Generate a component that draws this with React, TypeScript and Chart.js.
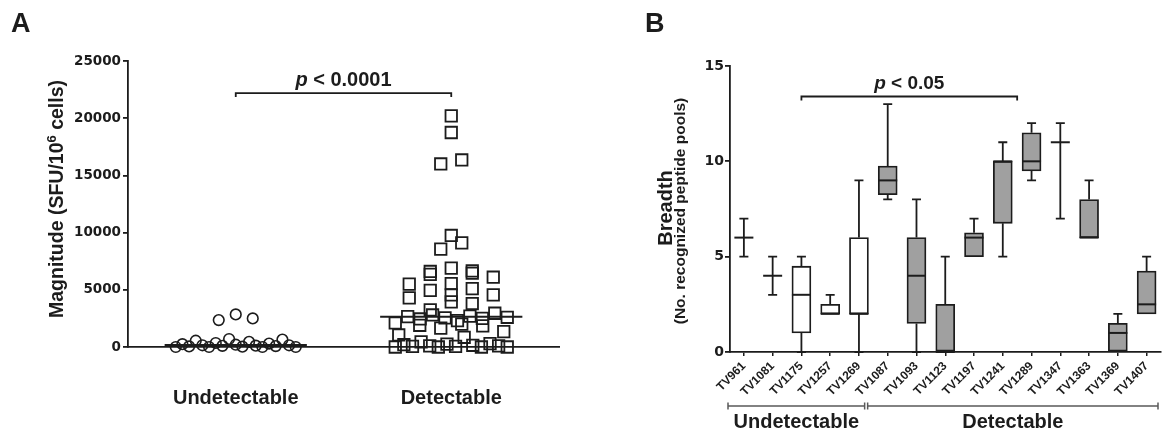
import React, { useEffect, useRef } from 'react';
import { Chart, registerables } from 'chart.js';

Chart.register(...registerables);

// ---------------- Panel A data ----------------
const groupLabelsA = ['Undetectable', 'Detectable'];
const undetectableSFU = [2850, 2500, 2350, 700, 650, 550, 450, 350, 300, 250, 200, 150, 150, 120, 100, 80, 50, 30, 0, 0, 0, 0];
const detectableSFU = [
  20200, 18750, 16350, 16000, 9750, 9100, 8550,
  6900, 6650, 6600, 6450, 6350, 6100, 5550, 5500,
  5100, 4950, 4550, 4550, 4300, 3950, 3800,
  3250, 2950, 2800, 2700, 2650, 2600, 2550, 2500, 2450,
  2300, 2100, 2000, 1900, 1850, 1650, 1350, 1050, 850,
  450, 300, 250, 200, 150, 100, 100, 50, 50, 0, 0, 0, 0,
];
const yTicksA = [0, 5000, 10000, 15000, 20000, 25000];
const yMaxA = 25000;
const pTextA = '< 0.0001';
const pValueLevelA = 22200;

// ---------------- Panel B data ----------------
const subjectsB = ['TV961', 'TV1081', 'TV1175', 'TV1257', 'TV1269', 'TV1087', 'TV1093', 'TV1123', 'TV1197', 'TV1241', 'TV1289', 'TV1347', 'TV1363', 'TV1369', 'TV1407'];
const viremiaB = ['Undetectable', 'Undetectable', 'Undetectable', 'Undetectable', 'Undetectable', 'Detectable', 'Detectable', 'Detectable', 'Detectable', 'Detectable', 'Detectable', 'Detectable', 'Detectable', 'Detectable', 'Detectable'];
const minB = [5, 3, 0, 2, 0, 8, 0, 0, 5, 5, 9, 7, 6, 0, 2];
const q1B = [6, 4, 1, 2, 2, 8.25, 1.5, 0, 5, 6.75, 9.5, 11, 6, 0, 2];
const medianB = [6, 4, 3, 2, 2, 9, 4, 0, 6, 10, 10, 11, 6, 1, 2.5];
const q3B = [6, 4, 4.5, 2.5, 6, 9.75, 6, 2.5, 6.25, 10, 11.5, 11, 8, 1.5, 4.25];
const maxB = [7, 5, 5, 3, 9, 13, 8, 5, 7, 11, 12, 12, 9, 2, 5];
const yTicksB = [0, 5, 10, 15];
const yMaxB = 15;
const pTextB = '< 0.05';
const pValueLevelB = 13.4;
const pSpanB = [2, 9.5];

// ---------------- styling ----------------
const INK = '#1c1c1c';
const NUM_FONT = '"DejaVu Sans", sans-serif';
const WORD_FONT = '"Liberation Sans", Arial, sans-serif';
const LW = 1.8;

// layout (chart areas)
const A = { w: 580, h: 436, left: 128, right: 559, top: 61, bottom: 347 };
const B = { w: 586, h: 436, left: 149.5, right: 581, top: 66, bottom: 352 };

function median(vals: number[]) {
  const s = [...vals].sort((a, b) => a - b);
  const n = s.length;
  return n % 2 ? s[(n - 1) / 2] : (s[n / 2 - 1] + s[n / 2]) / 2;
}

// Row-based scatter dot layout (GraphPad style): returns x offsets in pixels
function swarmOffsets(values: number[], pxPerUnit: number, binPx: number, stepPx: number, halfPx: number) {
  const order = values.map((_, i) => i).sort((a, b) => values[a] - values[b]);
  const rows: number[][] = [];
  let start = 0;
  for (const i of order) {
    if (!rows.length || (values[i] - start) * pxPerUnit > binPx) {
      rows.push([i]);
      start = values[i];
    } else rows[rows.length - 1].push(i);
  }
  const off = new Array(values.length).fill(0);
  for (const row of rows) {
    const n = row.length;
    const sp = n > 1 ? Math.min(stepPx, (2 * halfPx) / (n - 1)) : 0;
    const slots = Array.from({ length: n }, (_, k) => k).sort(
      (a, b) => ((a * 0.618034) % 1) - ((b * 0.618034) % 1)
    );
    row.forEach((idx, k) => {
      off[idx] = (slots[k] - (n - 1) / 2) * sp;
    });
  }
  return off;
}

function drawPValue(ctx: CanvasRenderingContext2D, cx: number, baseline: number, rest: string, size: number) {
  ctx.save();
  ctx.fillStyle = INK;
  ctx.textBaseline = 'alphabetic';
  ctx.textAlign = 'left';
  const fi = `italic bold ${size}px ${WORD_FONT}`;
  const fb = `bold ${size}px ${WORD_FONT}`;
  ctx.font = fi;
  const wp = ctx.measureText('p').width;
  ctx.font = fb;
  const wr = ctx.measureText(' ' + rest).width;
  const x0 = cx - (wp + wr) / 2;
  ctx.font = fi;
  ctx.fillText('p', x0, baseline);
  ctx.font = fb;
  ctx.fillText(' ' + rest, x0 + wp, baseline);
  ctx.restore();
}

function drawBracketDown(ctx: CanvasRenderingContext2D, x1: number, x2: number, y: number, drop: number) {
  ctx.save();
  ctx.strokeStyle = INK;
  ctx.lineWidth = LW;
  ctx.beginPath();
  ctx.moveTo(x1, y + drop);
  ctx.lineTo(x1, y);
  ctx.lineTo(x2, y);
  ctx.lineTo(x2, y + drop);
  ctx.stroke();
  ctx.restore();
}

function configA(): any {
  const pxPerUnitY = (A.bottom - A.top) / yMaxA;
  const pxPerUnitX = (A.right - A.left) / 2;
  const offU = swarmOffsets(undetectableSFU, pxPerUnitY, 10, 17, 60);
  const offD = swarmOffsets(detectableSFU, pxPerUnitY, 12, 21, 56);
  const medianHalf = 0.33;

  const plugin = {
    id: 'annotA',
    afterDatasetsDraw(chart: any) {
      const { ctx, scales } = chart;
      const x = scales.x, y = scales.y;
      ctx.save();
      ctx.strokeStyle = INK;
      ctx.lineWidth = 2;
      [undetectableSFU, detectableSFU].forEach((vals, gi) => {
        const py = y.getPixelForValue(median(vals));
        ctx.beginPath();
        ctx.moveTo(x.getPixelForValue(gi + 1 - medianHalf), py);
        ctx.lineTo(x.getPixelForValue(gi + 1 + medianHalf), py);
        ctx.stroke();
      });
      ctx.restore();
    },
    afterDraw(chart: any) {
      const { ctx, scales } = chart;
      const x = scales.x, y = scales.y;
      const by = y.getPixelForValue(pValueLevelA);
      const x1 = x.getPixelForValue(1), x2 = x.getPixelForValue(2);
      drawBracketDown(ctx, x1, x2, by, 4);
      drawPValue(ctx, (x1 + x2) / 2, by - 7, pTextA, 20);
      ctx.save();
      ctx.fillStyle = INK;
      ctx.textBaseline = 'alphabetic';
      ctx.textAlign = 'left';
      const cy = (A.top + A.bottom) / 2 - 5;
      ctx.translate(63, cy);
      ctx.rotate(-Math.PI / 2);
      const main = `bold 19.5px ${WORD_FONT}`;
      const sup = `bold 13px ${WORD_FONT}`;
      const parts = ['Magnitude (SFU/10', '6', ' cells)'];
      ctx.font = main;
      const w0 = ctx.measureText(parts[0]).width;
      const w2 = ctx.measureText(parts[2]).width;
      ctx.font = sup;
      const w1 = ctx.measureText(parts[1]).width;
      let sx = -(w0 + w1 + w2) / 2;
      ctx.font = main;
      ctx.fillText(parts[0], sx, 0);
      sx += w0;
      ctx.font = sup;
      ctx.fillText(parts[1], sx, -7);
      sx += w1;
      ctx.font = main;
      ctx.fillText(parts[2], sx, 0);
      ctx.restore();
      ctx.save();
      ctx.fillStyle = INK;
      ctx.font = `bold 27px ${WORD_FONT}`;
      ctx.textBaseline = 'alphabetic';
      ctx.fillText('A', 11, 32);
      ctx.restore();
    },
  };

  return {
    type: 'scatter',
    data: {
      datasets: [
        {
          label: groupLabelsA[0],
          data: undetectableSFU.map((v, i) => ({ x: 1 + offU[i] / pxPerUnitX, y: v })),
          pointStyle: 'circle',
          pointRadius: 5.3,
          pointBorderWidth: 1.6,
          pointBorderColor: INK,
          pointBackgroundColor: 'rgba(255,255,255,0)',
          clip: false,
        },
        {
          label: groupLabelsA[1],
          data: detectableSFU.map((v, i) => ({ x: 2 + offD[i] / pxPerUnitX, y: v })),
          pointStyle: 'rect',
          pointRadius: 8.1,
          pointBorderWidth: 1.8,
          pointBorderColor: INK,
          pointBackgroundColor: 'rgba(255,255,255,0)',
          clip: false,
        },
      ],
    },
    options: {
      responsive: false,
      animation: false,
      devicePixelRatio: 1,
      layout: { padding: { left: 0, top: A.top, right: A.w - A.right, bottom: 0 } },
      plugins: { legend: { display: false }, tooltip: { enabled: false } },
      scales: {
        x: {
          type: 'linear',
          min: 0.5,
          max: 2.5,
          afterBuildTicks: (s: any) => { s.ticks = [{ value: 1 }, { value: 2 }]; },
          afterFit: (s: any) => { s.height = A.h - A.bottom; },
          grid: { display: false, drawTicks: false },
          border: { display: true, color: INK, width: LW },
          ticks: {
            padding: 39,
            color: INK,
            font: { family: WORD_FONT, size: 20, weight: 'bold' },
            callback: (v: number) => groupLabelsA[Math.round(v) - 1] ?? '',
          },
        },
        y: {
          min: 0,
          max: yMaxA,
          afterBuildTicks: (s: any) => { s.ticks = yTicksA.map((v) => ({ value: v })); },
          afterFit: (s: any) => { s.width = A.left; },
          grid: { display: true, drawOnChartArea: false, drawTicks: true, tickLength: 5, color: INK, lineWidth: LW },
          border: { display: true, color: INK, width: LW },
          ticks: {
            padding: 2,
            color: INK,
            font: { family: NUM_FONT, size: 13.5, weight: 'bold' },
            callback: (v: number) => String(v),
          },
        },
      },
    },
    plugins: [plugin],
  };
}

function configB(): any {
  const groups = Array.from(new Set(viremiaB));
  const splitShift = -0.25;
  const plugin = {
    id: 'annotB',
    beforeDatasetsDraw(chart: any) {
      const { ctx, scales } = chart;
      const x = scales.x, y = scales.y;
      const cap = 4.5;
      ctx.save();
      ctx.strokeStyle = INK;
      ctx.lineWidth = LW;
      subjectsB.forEach((_, i) => {
        const cx = x.getPixelForValue(i);
        if (maxB[i] > q3B[i]) {
          const yt = y.getPixelForValue(maxB[i]);
          ctx.beginPath();
          ctx.moveTo(cx, y.getPixelForValue(q3B[i]));
          ctx.lineTo(cx, yt);
          ctx.moveTo(cx - cap, yt);
          ctx.lineTo(cx + cap, yt);
          ctx.stroke();
        }
        if (minB[i] < q1B[i]) {
          const yb = y.getPixelForValue(minB[i]);
          ctx.beginPath();
          ctx.moveTo(cx, y.getPixelForValue(q1B[i]));
          ctx.lineTo(cx, yb);
          ctx.moveTo(cx - cap, yb);
          ctx.lineTo(cx + cap, yb);
          ctx.stroke();
        }
      });
      ctx.restore();
    },
    afterDatasetsDraw(chart: any) {
      const { ctx, scales } = chart;
      const x = scales.x, y = scales.y;
      const meta = chart.getDatasetMeta(0);
      ctx.save();
      ctx.strokeStyle = INK;
      ctx.lineWidth = 2;
      subjectsB.forEach((_, i) => {
        const cx = x.getPixelForValue(i);
        const half = (meta.data[i]?.width ?? 19) / 2;
        const py = y.getPixelForValue(medianB[i]);
        ctx.beginPath();
        ctx.moveTo(cx - half, py);
        ctx.lineTo(cx + half, py);
        ctx.stroke();
      });
      ctx.restore();
    },
    afterDraw(chart: any) {
      const { ctx, scales } = chart;
      const x = scales.x, y = scales.y;
      const by = y.getPixelForValue(pValueLevelB);
      const x1 = x.getPixelForValue(pSpanB[0]), x2 = x.getPixelForValue(pSpanB[1]);
      drawBracketDown(ctx, x1, x2, by, 4);
      drawPValue(ctx, (x1 + x2) / 2, by - 7.5, pTextB, 19);
      const gy = B.bottom + 54;
      groups.forEach((g, gi) => {
        const first = viremiaB.indexOf(g);
        const last = viremiaB.lastIndexOf(g);
        const lo = gi === 0 ? first - 0.5 : first - 0.5 + splitShift;
        const hi = gi === groups.length - 1 ? last + 0.5 : last + 0.5 + splitShift;
        const px1 = x.getPixelForValue(lo) + (gi === 0 ? -1.5 : 1.5);
        const px2 = x.getPixelForValue(hi) - (gi === groups.length - 1 ? 3 : 1.5);
        ctx.save();
        ctx.strokeStyle = '#5a5a5a';
        ctx.lineWidth = 1.5;
        ctx.beginPath();
        ctx.moveTo(px1, gy);
        ctx.lineTo(px2, gy);
        ctx.moveTo(px1, gy - 3.5);
        ctx.lineTo(px1, gy + 3.5);
        ctx.moveTo(px2, gy - 3.5);
        ctx.lineTo(px2, gy + 3.5);
        ctx.stroke();
        ctx.fillStyle = INK;
        ctx.font = `bold 20px ${WORD_FONT}`;
        ctx.textAlign = 'center';
        ctx.textBaseline = 'alphabetic';
        ctx.fillText(g, (px1 + px2) / 2, B.bottom + 76);
        ctx.restore();
      });
      const cy = (B.top + B.bottom) / 2;
      ctx.save();
      ctx.fillStyle = INK;
      ctx.textAlign = 'center';
      ctx.textBaseline = 'alphabetic';
      ctx.save();
      ctx.translate(91.6, cy - 1);
      ctx.rotate(-Math.PI / 2);
      ctx.font = `bold 20px ${WORD_FONT}`;
      ctx.fillText('Breadth', 0, 0);
      ctx.restore();
      ctx.save();
      ctx.translate(105, cy + 2);
      ctx.rotate(-Math.PI / 2);
      ctx.font = `bold 15.5px ${WORD_FONT}`;
      ctx.fillText('(No. recognized peptide pools)', 0, 0);
      ctx.restore();
      ctx.textAlign = 'left';
      ctx.font = `bold 27px ${WORD_FONT}`;
      ctx.fillText('B', 65, 32);
      ctx.restore();
    },
  };

  return {
    type: 'bar',
    data: {
      labels: subjectsB,
      datasets: [
        {
          label: 'IQR',
          data: q1B.map((q, i) => [q, q3B[i]]),
          backgroundColor: viremiaB.map((g) => (g === 'Undetectable' ? '#ffffff' : '#a0a0a0')),
          borderColor: INK,
          borderWidth: LW,
          borderSkipped: false,
          barThickness: 19,
        },
      ],
    },
    options: {
      responsive: false,
      animation: false,
      devicePixelRatio: 1,
      layout: { padding: { left: 0, top: B.top, right: B.w - B.right, bottom: 0 } },
      plugins: { legend: { display: false }, tooltip: { enabled: false } },
      scales: {
        x: {
          type: 'category',
          offset: true,
          afterFit: (s: any) => { s.height = B.h - B.bottom; },
          grid: { display: true, drawOnChartArea: false, drawTicks: true, tickLength: 4, offset: false, color: INK, lineWidth: 1.5 },
          border: { display: true, color: INK, width: LW },
          ticks: {
            autoSkip: false,
            minRotation: 45,
            maxRotation: 45,
            padding: 3,
            color: INK,
            font: { family: WORD_FONT, size: 12, weight: 'bold' },
          },
        },
        y: {
          min: 0,
          max: yMaxB,
          afterBuildTicks: (s: any) => { s.ticks = yTicksB.map((v) => ({ value: v })); },
          afterFit: (s: any) => { s.width = B.left; },
          grid: { display: true, drawOnChartArea: false, drawTicks: true, tickLength: 4.5, color: INK, lineWidth: LW },
          border: { display: true, color: INK, width: LW },
          ticks: {
            padding: 1,
            color: INK,
            font: { family: NUM_FONT, size: 14, weight: 'bold' },
          },
        },
      },
    },
    plugins: [plugin],
  };
}

export default function App() {
  const refA = useRef<HTMLCanvasElement>(null);
  const refB = useRef<HTMLCanvasElement>(null);
  useEffect(() => {
    const a = new Chart(refA.current as HTMLCanvasElement, configA());
    const b = new Chart(refB.current as HTMLCanvasElement, configB());
    return () => {
      a.destroy();
      b.destroy();
    };
  }, []);
  return (
    <div style={{ position: 'absolute', left: 0, top: 0, width: 1166, height: 436, background: '#ffffff', overflow: 'hidden' }}>
      <canvas ref={refA} width={A.w} height={A.h} style={{ position: 'absolute', left: 0, top: 0 }} />
      <canvas ref={refB} width={B.w} height={B.h} style={{ position: 'absolute', left: 580, top: 0 }} />
    </div>
  );
}
